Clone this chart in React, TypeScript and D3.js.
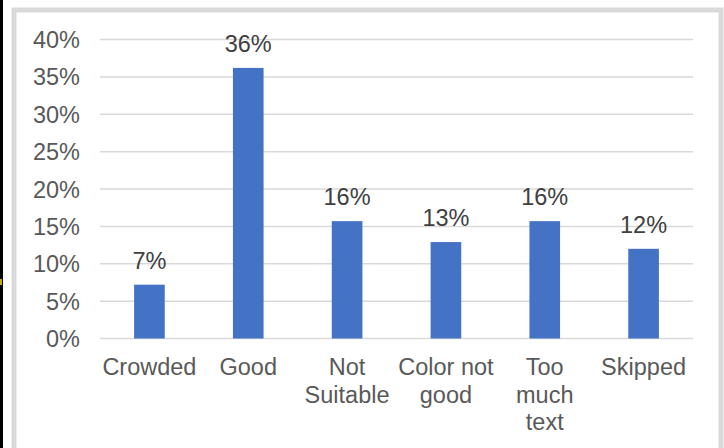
import React from "react";
import * as d3 from "d3";

// Survey responses: share of participants per feedback category
const categories: string[][] = [
  ["Crowded"],
  ["Good"],
  ["Not", "Suitable"],
  ["Color not", "good"],
  ["Too", "much", "text"],
  ["Skipped"],
];
const shares: number[] = [0.072, 0.362, 0.157, 0.129, 0.157, 0.12];
const yTicks: number[] = [0, 0.05, 0.1, 0.15, 0.2, 0.25, 0.3, 0.35, 0.4];

const W = 724;
const H = 448;
const FONT = "'Liberation Sans', Arial, sans-serif";
const FS = 23.5;

export default function App() {
  const keys = categories.map((c) => c.join(" "));
  const x = d3.scaleBand<string>().domain(keys).range([100, 693]).paddingInner(0.69).paddingOuter(0.345);
  const y = d3.scaleLinear().domain([0, 0.4]).range([338.5, 39.5]);
  const pct = d3.format(".0%");

  return (
    <svg
      width={W}
      height={H}
      style={{ position: "fixed", left: 0, top: 0, background: "#fff" }}
      fontFamily={FONT}
    >
      <rect x={0} y={0} width={W} height={H} fill="#fff" />
      {/* dark strip along the left edge */}
      <rect x={0} y={0} width={3} height={H} fill="#000" />
      <rect x={0} y={279} width={2} height={6} fill="#c9a900" />
      {/* chart frame */}
      <rect x={14} y={10} width={707} height={H + 20} fill="none" stroke="#d9d9d9" strokeWidth={5} />

      {/* gridlines */}
      {yTicks.map((t) => (
        <line key={t} x1={100} x2={693} y1={y(t)} y2={y(t)} stroke="#d9d9d9" strokeWidth={1.5} />
      ))}

      {/* y tick labels */}
      {yTicks.map((t) => (
        <text key={"l" + t} x={80} y={y(t) + 8.5} textAnchor="end" fontSize={FS} fill="#595959">
          {pct(t)}
        </text>
      ))}

      {/* bars */}
      {shares.map((v, i) => (
        <rect
          key={keys[i]}
          x={x(keys[i])!}
          y={y(v)}
          width={x.bandwidth()}
          height={y(0) - y(v)}
          fill="#4472c4"
        />
      ))}

      {/* value labels */}
      {shares.map((v, i) => (
        <text
          key={"v" + i}
          x={x(keys[i])! + x.bandwidth() / 2}
          y={y(v) - 16}
          textAnchor="middle"
          fontSize={FS}
          fill="#404040"
        >
          {pct(v)}
        </text>
      ))}

      {/* category labels */}
      {categories.map((lines, i) => (
        <text
          key={"c" + i}
          x={x(keys[i])! + x.bandwidth() / 2}
          y={375}
          textAnchor="middle"
          fontSize={FS}
          fill="#595959"
        >
          {lines.map((ln, j) => (
            <tspan key={j} x={x(keys[i])! + x.bandwidth() / 2} dy={j === 0 ? 0 : 27.5}>
              {ln}
            </tspan>
          ))}
        </text>
      ))}
    </svg>
  );
}
